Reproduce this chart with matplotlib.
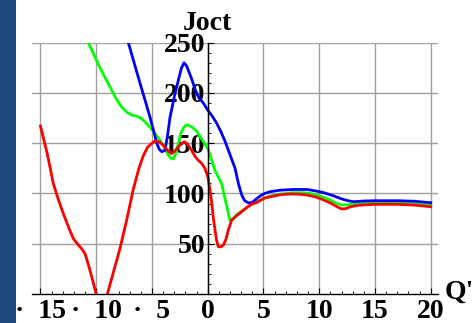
import matplotlib
matplotlib.use("Agg")
import matplotlib.pyplot as plt
import matplotlib.patches as patches
from matplotlib.ticker import MultipleLocator

# --- series read along Q' ---
red_q = [-15.0, -14.4, -13.85, -13.4, -12.95, -12.5, -12.05, -11.6, -11.3, -11.0,
         -10.7, -10.4, -10.0, -9.5, -9.0, -8.5, -7.9, -7.3, -6.7, -6.2,
         -5.8, -5.4, -5.0, -4.7, -4.3, -4.0, -3.6, -3.25, -2.9, -2.5,
         -2.1, -1.8, -1.45, -1.15, -0.85, -0.55, -0.25, 0.0, 0.2, 0.36,
         0.5, 0.65, 0.8, 0.95, 1.2, 1.4, 1.65, 1.85, 2.15, 2.6,
         3.05, 3.5, 3.95, 4.4, 5.1, 5.6, 6.5, 7.4, 8.2, 8.9,
         9.7, 10.4, 11.0, 11.6, 12.0, 12.4, 12.8, 13.5, 15.0, 17.0,
         18.5, 20.0]
red_j = [167, 140, 110, 94, 80, 67, 55, 48.7, 45, 40,
         29, 17, 0, -12, 0, 20, 44, 72, 103, 124,
         137, 146, 150, 152.5, 151, 148, 143, 139.5, 143, 148,
         151.5, 149, 143, 137, 133, 130, 125, 117, 104, 90,
         76, 63.7, 53, 47, 47, 48.7, 55, 63.7, 73.6, 78,
         82, 86, 89.5, 91, 95.5, 96.7, 98.7, 99.5, 99.3, 98.5,
         96.5, 93.5, 90.5, 86.8, 84.6, 85, 86.8, 88.3, 89.2, 89.2,
         88.5, 86.8]

blue_q = [-7.6, -7.12, -6.6, -6.07, -5.6, -5.18, -4.85, -4.57, -4.35, -4.13,
          -3.83, -3.6, -3.38, -3.0, -2.63, -2.35, -2.13, -1.9, -1.65, -1.44,
          -1.15, -0.84, -0.4, 0.0, 0.4, 0.8, 1.2, 1.55, 1.85, 2.15,
          2.45, 2.75, 3.05, 3.3, 3.6, 3.95, 4.3, 4.7, 5.1, 5.6,
          6.5, 7.7, 8.9, 9.7, 10.4, 11.2, 11.9, 12.5, 13.06, 14.0,
          15.0, 17.0, 18.5, 20.0]
blue_j = [268, 250, 230, 209.6, 192, 176, 162, 150, 144, 141.6,
          143, 158, 176, 196, 213, 225, 230, 227, 220, 214,
          204, 196, 190, 183, 177, 170, 161, 152, 143, 134,
          125, 110, 98.5, 93, 90.8, 90.8, 94, 97.5, 100, 101.8,
          103.3, 104, 104, 102.5, 100.8, 98, 95, 93, 91.8, 92.5,
          92.8, 92.8, 92.3, 90.8]

green_q = [-11.2, -10.7, -10.2, -9.7, -9.2, -8.76, -8.3, -7.8, -7.27, -6.8,
           -6.4, -6.07, -5.6, -5.18, -4.7, -4.28, -3.9, -3.53, -3.3, -3.08,
           -2.85, -2.64, -2.4, -2.19, -1.95, -1.74, -1.4, -0.99, -0.6, -0.3,
           0.0, 0.3, 0.65, 1.0, 1.25, 1.5, 1.75, 2.0, 2.3, 2.6,
           3.2, 3.8, 4.4, 5.0, 5.6, 6.6, 7.7, 8.5, 9.2, 10.0,
           10.7, 11.4, 12.0, 12.5, 13.06, 14.0, 15.0, 17.0, 18.5, 20.0]
green_j = [268, 250, 238, 226, 215, 206, 196, 187, 181, 178,
           177, 175.5, 171, 166, 159, 153, 146, 138, 135, 134.5,
           140, 150, 160, 165, 168, 168, 166, 162, 155, 150,
           145, 135, 123, 115, 110, 97, 85, 73, 75, 79,
           83.6, 88, 91.8, 95, 97.5, 99.5, 100.8, 100.8, 100, 97.8,
           95, 91, 88.5, 88.8, 89.5, 90, 90.2, 90.2, 89.7, 88.5]

x_ticks = [-15, -10, -5, 0, 5, 10, 15, 20]
x_tick_labels = ["\u00b7  15", "\u00b7  10", "\u00b7  5", "0", "5", "10", "15", "20"]
y_ticks = [50, 100, 150, 200, 250]
y_tick_labels = ["50", "100", "150", "200", "250"]

SERIF = ["Liberation Serif", "DejaVu Serif"]

fig = plt.figure(figsize=(4.73, 3.23), dpi=100)
fig.patch.set_facecolor("white")
ax = fig.add_axes([32 / 473, 1 - 294 / 323, 406 / 473, 251.3 / 323])

for xs, ys, col in [(green_q, green_j, "#00ff00"),
                    (blue_q, blue_j, "#0000ff"),
                    (red_q, red_j, "#ff0000")]:
    ax.plot(xs, ys, color=col, lw=2.0, solid_joinstyle="round", zorder=3)

ax.set_xlim(-15.76, 20.65)
ax.set_ylim(0, 250)

# axes cross at the origin, Mathematica style
for side in ["top", "right"]:
    ax.spines[side].set_visible(False)
ax.spines["left"].set_position(("data", 0))
ax.spines["left"].set_zorder(4)
ax.spines["bottom"].set_zorder(4)
for sp in ["left", "bottom"]:
    ax.spines[sp].set_linewidth(1.0)

ax.set_xticks(x_ticks)
ax.set_xticklabels(x_tick_labels)
ax.set_yticks(y_ticks)
ax.set_yticklabels(y_tick_labels)
ax.xaxis.set_minor_locator(MultipleLocator(1))
ax.yaxis.set_minor_locator(MultipleLocator(10))
ax.tick_params(which="major", direction="in", length=4.5, width=0.8)
ax.tick_params(which="minor", direction="in", length=2.5, width=0.6)
ax.tick_params(axis="x", which="major", pad=3.5)
ax.tick_params(axis="y", which="major", pad=2)
for lab in ax.get_xticklabels() + ax.get_yticklabels():
    lab.set_fontfamily(SERIF)
    lab.set_fontweight("bold")
    lab.set_fontsize(20)
for lab in ax.get_yticklabels():
    lab.set_zorder(2)

ax.grid(True, which="major", color="#a0a0a0", lw=1.0, zorder=0)
ax.set_axisbelow(True)

# axis labels at the ends of the axes
ax.text(0, 263, "Joct", ha="center", va="baseline", fontsize=20,
        fontweight="bold", family=SERIF, clip_on=False)
ax.text(21.2, -5, "Q'", ha="left", va="baseline", fontsize=20,
        fontweight="bold", family=SERIF, clip_on=False)

# dark band on the left edge
fig.patches.append(patches.Rectangle((0, 0), 16 / 473, 1, transform=fig.transFigure,
                                     facecolor="#1f497d", edgecolor="none", zorder=10))

fig.savefig("out.png", dpi=100)
